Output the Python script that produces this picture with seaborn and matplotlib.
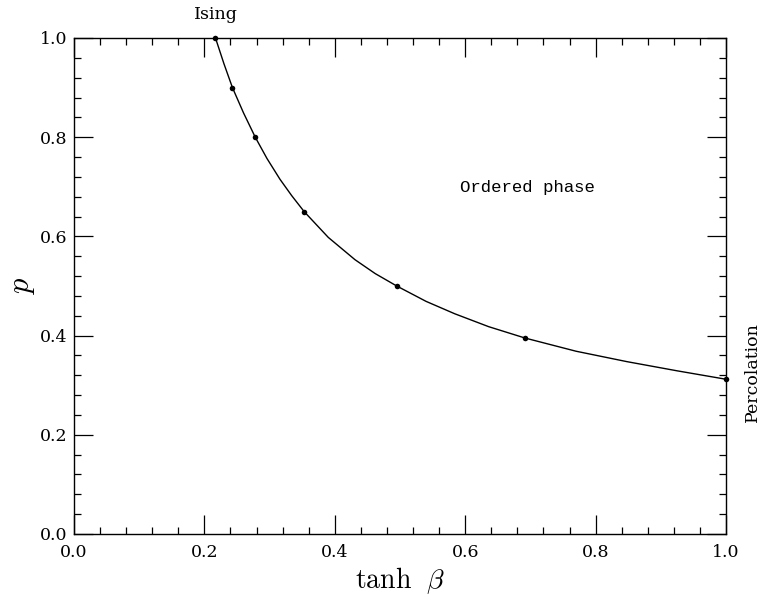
import matplotlib
matplotlib.use("Agg")
import matplotlib.pyplot as plt
from matplotlib.ticker import MultipleLocator
import pandas as pd
import seaborn as sns

# points mesurés (marqueurs)
tanh_beta = [0.217, 0.243, 0.278, 0.353, 0.495, 0.692, 1.0]
p_values = [1.0, 0.9, 0.8, 0.65, 0.5, 0.395, 0.312]

# courbe (points de la ligne continue)
curve_x = [0.217, 0.230, 0.243, 0.260, 0.278, 0.296, 0.316, 0.334, 0.353, 0.390,
           0.431, 0.462, 0.495, 0.540, 0.584, 0.636, 0.692, 0.770, 0.848, 0.925, 1.0]
curve_y = [1.0, 0.948, 0.9, 0.849, 0.8, 0.757, 0.715, 0.682, 0.65, 0.598,
           0.553, 0.525, 0.5, 0.469, 0.444, 0.418, 0.395, 0.3685, 0.3475, 0.329, 0.312]

sns.set_theme(style="ticks")
plt.rcParams["font.family"] = ["DejaVu Serif"]
plt.rcParams["mathtext.fontset"] = "cm"
plt.rcParams["text.color"] = "black"
plt.rcParams["axes.labelcolor"] = "black"

fig = plt.figure(figsize=(7.61, 5.98), dpi=100)
ax = fig.add_axes([74 / 761, 64 / 598, 652 / 761, 496 / 598])

sns.lineplot(data=pd.DataFrame({"x": curve_x, "y": curve_y}), x="x", y="y",
             sort=False, color="black", lw=1.0, ax=ax)
sns.scatterplot(x=tanh_beta, y=p_values, color="black", s=16, edgecolor="black",
                linewidth=0, zorder=5, clip_on=False, ax=ax)

ax.set_xlim(0, 1.0)
ax.set_ylim(0, 1.0)
ax.xaxis.set_major_locator(MultipleLocator(0.2))
ax.xaxis.set_minor_locator(MultipleLocator(0.04))
ax.yaxis.set_major_locator(MultipleLocator(0.2))
ax.yaxis.set_minor_locator(MultipleLocator(0.04))
ax.xaxis.set_major_formatter(lambda v, pos: f"{v:.1f}")
ax.yaxis.set_major_formatter(lambda v, pos: f"{v:.1f}")
ax.tick_params(which="both", direction="in", top=True, right=True, colors="black",
               labelsize=12.5)
ax.tick_params(which="major", length=14, width=0.9)
ax.tick_params(which="minor", length=5, width=0.9)
ax.tick_params(axis="x", which="major", pad=7)
ax.tick_params(axis="y", which="major", pad=5)
for s in ax.spines.values():
    s.set_color("black")
    s.set_linewidth(1.0)

ax.set_xlabel(r"$\mathrm{tanh}\ \ \beta$", fontsize=20, labelpad=3)
ax.set_ylabel(r"$p$", fontsize=22, labelpad=2)

ax.text(0.695, 0.698, "Ordered phase", family="Liberation Mono", fontsize=12.5,
        ha="center", va="center")
ax.text(0.217, 1.03, "Ising", fontsize=12.5, ha="center", va="bottom", clip_on=False)
ax.text(1.04, 0.327, "Percolation", fontsize=12.5, ha="center", va="center",
        rotation=90, clip_on=False)

fig.savefig("out.png", dpi=100)
